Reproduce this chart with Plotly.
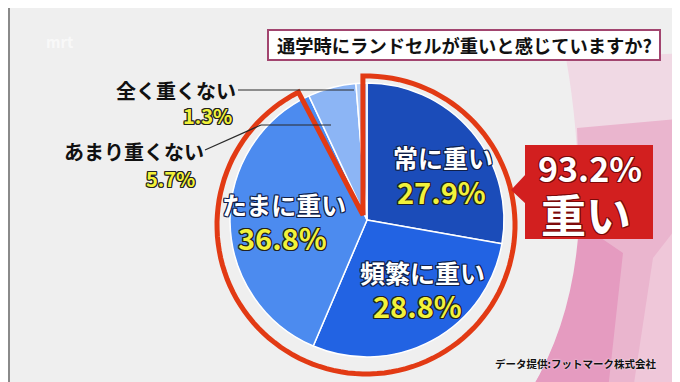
import numpy as np
import plotly.graph_objects as go

# ---- data ----
categories = ["常に重い", "頻繁に重い", "たまに重い", "あまり重くない", "全く重くない"]
values = [27.9, 28.8, 36.8, 5.7, 1.3]
heavy_total = "93.2%"
title_text = "通学時にランドセルが重いと感じていますか?"
source_text = "データ提供:フットマーク株式会社"

colors = ["#1b4cb9", "#2263e3", "#4c8bef", "#8cb5f5", "#b5d0f8"]

W, H = 680, 382
FONT = "Noto Sans CJK JP"

fig = go.Figure()

# invisible pixel-space axes
fig.add_trace(go.Scatter(x=[0, W], y=[0, H], mode="markers",
                         marker=dict(opacity=0), hoverinfo="skip", showlegend=False))

# pie
cx, cy, r = 359, 212, 137
fig.add_trace(go.Pie(
    labels=categories, values=values, sort=False, direction="clockwise",
    rotation=0, textinfo="none", hoverinfo="label+percent",
    marker=dict(colors=colors, line=dict(color="white", width=1.5)),
    domain=dict(x=[(cx - r) / W, (cx + r) / W], y=[1 - (cy + r) / H, 1 - (cy - r) / H]),
    showlegend=False,
))

shapes = []
# background pink areas
bg = [
    ("M 558 50 L 680 45 L 680 382 L 523 382 Q 562 318 570 240 Q 574 140 558 50 Z", "#f0d9e4"),
    ("M 569 120 L 680 110 L 680 382 L 523 382 Q 562 318 570 240 Q 572 180 569 120 Z", "#eab5ce"),
    ("M 571 215 Q 566 310 523 382 L 600 382 L 615 245 Z", "#e59bc0"),
    ("M 645 250 L 680 205 L 680 382 L 625 382 Z", "#efc7d9"),
]
for p, c in bg:
    shapes.append(dict(type="path", xref="x", yref="y", layer="below", path=p,
                       fillcolor=c, line=dict(width=0)))
# frame edges
shapes.append(dict(type="line", xref="x", yref="y", x0=1, x1=1, y0=0, y1=H,
                   line=dict(color="#8a8a8a", width=2), layer="above"))
shapes.append(dict(type="line", xref="x", yref="y", x0=678, x1=678, y0=0, y1=H,
                   line=dict(color="#b0b0b0", width=1), layer="above"))

# red outline around "heavy" portion
rcx, rcy, rr = 358, 217, 149
a_start = np.deg2rad(-1.2)
a_end = np.deg2rad(333)
angs = np.linspace(a_start, a_end, 120)
pts = [(rcx + rr * np.sin(a), rcy - rr * np.cos(a)) for a in angs]
path = "M 355 207 L " + " L ".join(f"{x:.1f} {y:.1f}" for x, y in pts) + " Z"
shapes.append(dict(type="path", xref="x", yref="y", layer="above", path=path,
                   line=dict(color="#e23a14", width=5)))

# callout box + pointer
shapes.append(dict(type="rect", xref="x", yref="y", x0=517, x1=645, y0=137, y1=231,
                   fillcolor="#d21f1f", line=dict(width=0), layer="above"))
shapes.append(dict(type="path", xref="x", yref="y", path="M 518 166 L 503 182 L 518 196 Z",
                   fillcolor="#d21f1f", line=dict(width=0), layer="above"))

# title box
shapes.append(dict(type="rect", xref="x", yref="y", x0=260, x1=652, y0=22, y1=52,
                   fillcolor="white", line=dict(color="#a2456f", width=2), layer="above"))

# leader lines
for (x0, y0, x1, y1) in [(230, 82, 346, 82), (197, 142, 253, 117), (253, 117, 323, 117)]:
    shapes.append(dict(type="line", xref="x", yref="y", x0=x0, y0=y0, x1=x1, y1=y1,
                       line=dict(color="#2a2a2a", width=1.2), layer="above"))


def outline(c, w=1):
    return ", ".join(f"{dx}px {dy}px 0 {c}" for dx in (-w, 0, w) for dy in (-w, 0, w) if dx or dy)


DARK = outline("#10204a", 1)
BLK = outline("#222222", 1)
YEL = "#f2f23a"

ann = []


def add(text, x, y, size, color, shadow="none", weight="bold"):
    ann.append(dict(text=text, x=x, y=y, xref="x", yref="y", showarrow=False,
                    xanchor="center", yanchor="middle", borderpad=0,
                    font=dict(family=FONT, size=size, color=color, weight=weight, shadow=shadow)))


pct = [f"{v}%" for v in values]
# inside labels
add(categories[0], 435, 149, 25, "white", DARK)
add(pct[0], 433, 183, 29, YEL, BLK)
add(categories[1], 414, 264, 25, "white", DARK)
add(pct[1], 409, 297, 29, YEL, BLK)
add(categories[2], 276, 196, 25, "white", DARK)
add(pct[2], 274, 229, 29, YEL, BLK)
# outside labels
add(categories[4], 168, 82, 20, "#111111")
add(pct[4], 199, 107, 20, YEL, BLK)
add(categories[3], 126, 143, 20, "#111111")
add(pct[3], 162, 170, 20, YEL, BLK)
# callout
add(heavy_total, 582, 159, 34, "white", outline("#7a0a0a", 1))
add("重い", 578, 205, 45, "white", outline("#7a0a0a", 1))
# title, source, logo
add(title_text, 456, 37, 18.3, "#111111")
add(source_text, 567, 355, 10.5, "#111111", "0 0 2px #ffffff")
add("mrt", 52, 33, 15, "rgba(255,255,255,0.6)")

fig.update_layout(
    width=W, height=H, margin=dict(l=0, r=0, t=0, b=0),
    paper_bgcolor="#efefef", plot_bgcolor="#efefef",
    xaxis=dict(range=[0, W], visible=False, fixedrange=True),
    yaxis=dict(range=[H, 0], visible=False, fixedrange=True),
    shapes=shapes, annotations=ann, showlegend=False,
    font=dict(family=FONT),
)

fig.write_html("out.html")
